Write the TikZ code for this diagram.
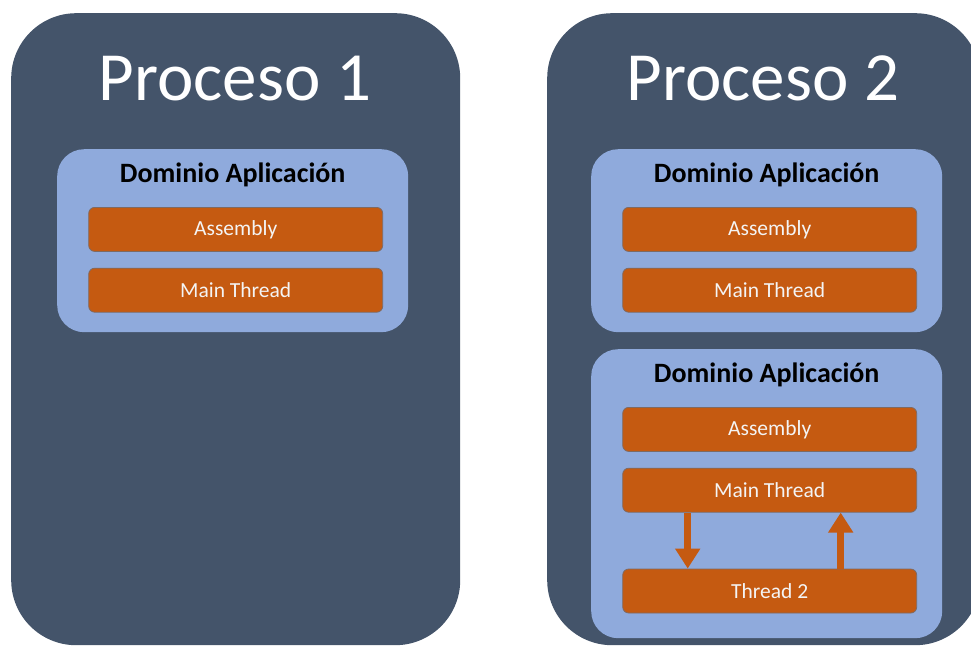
\documentclass[tikz,border=0pt]{standalone}
\usepackage{fontspec}
\setmainfont{Carlito}
\usetikzlibrary{positioning,arrows.meta}
\definecolor{procfondo}{HTML}{44546A}
\definecolor{domfondo}{HTML}{8FAADC}
\definecolor{hilofondo}{HTML}{C55A11}
\definecolor{hiloborde}{HTML}{7F6A62}
\definecolor{hilotexto}{HTML}{F4F4F4}
\begin{document}
\begin{tikzpicture}[x=1pt,y=-1pt,
	proceso/.style={fill=procfondo, rounded corners=65pt, anchor=north west, minimum height=632pt},
	nombre/.style={text=white, anchor=base, font=\fontsize{69}{80}\selectfont},
	dominio/.style={fill=domfondo, rounded corners=27pt, anchor=north west, minimum width=351pt},
	domtitulo/.style={anchor=base, font=\bfseries\fontsize{28}{33}\selectfont},
	hilo/.style={fill=hilofondo, draw=hiloborde, line width=0.8pt, rounded corners=6pt, minimum width=294pt, minimum height=44pt, inner sep=0pt, text=hilotexto, font=\fontsize{21.5}{26}\selectfont},
	flecha/.style={draw=hilofondo, line width=7pt, -{Triangle[length=20pt,width=24pt]}}]
		\useasboundingbox (0,0) rectangle (971,646);
		% proceso 1
		\node (p1) [proceso, minimum width=449pt] at (11,13) {};
		\node (p1n) [nombre] at (235,100) {Proceso 1};
		\node (d1) [dominio, minimum height=183pt] at (57,149) {};
		\node (d1t) [domtitulo] at ([yshift=-33pt]d1.north) {Dominio Aplicación};
		\node (a1) [hilo, below=58pt of d1.north, xshift=3pt] {Assembly};
		\node (m1) [hilo, below=16pt of a1] {Main Thread};
		% proceso 2
		\node (p2) [proceso, minimum width=433pt] at (547,13) {};
		\node (p2n) [nombre] at (763,100) {Proceso 2};
		\node (d2) [dominio, minimum height=183pt] at (591,149) {};
		\node (d2t) [domtitulo] at ([yshift=-33pt]d2.north) {Dominio Aplicación};
		\node (a2) [hilo, below=58pt of d2.north, xshift=3pt] {Assembly};
		\node (m2) [hilo, below=16pt of a2] {Main Thread};
		\node (d3) [dominio, minimum height=289pt] at (591,349) {};
		\node (d3t) [domtitulo] at ([yshift=-33pt]d3.north) {Dominio Aplicación};
		\node (a3) [hilo, below=58pt of d3.north, xshift=3pt] {Assembly};
		\node (m3) [hilo, below=16pt of a3] {Main Thread};
		\node (t3) [hilo, below=56pt of m3] {Thread 2};
		\draw[flecha] ([xshift=-82pt]m3.south) -- ([xshift=-82pt]t3.north);
		\draw[flecha] ([xshift=71pt]t3.north) -- ([xshift=71pt]m3.south);
\end{tikzpicture}
\end{document}
